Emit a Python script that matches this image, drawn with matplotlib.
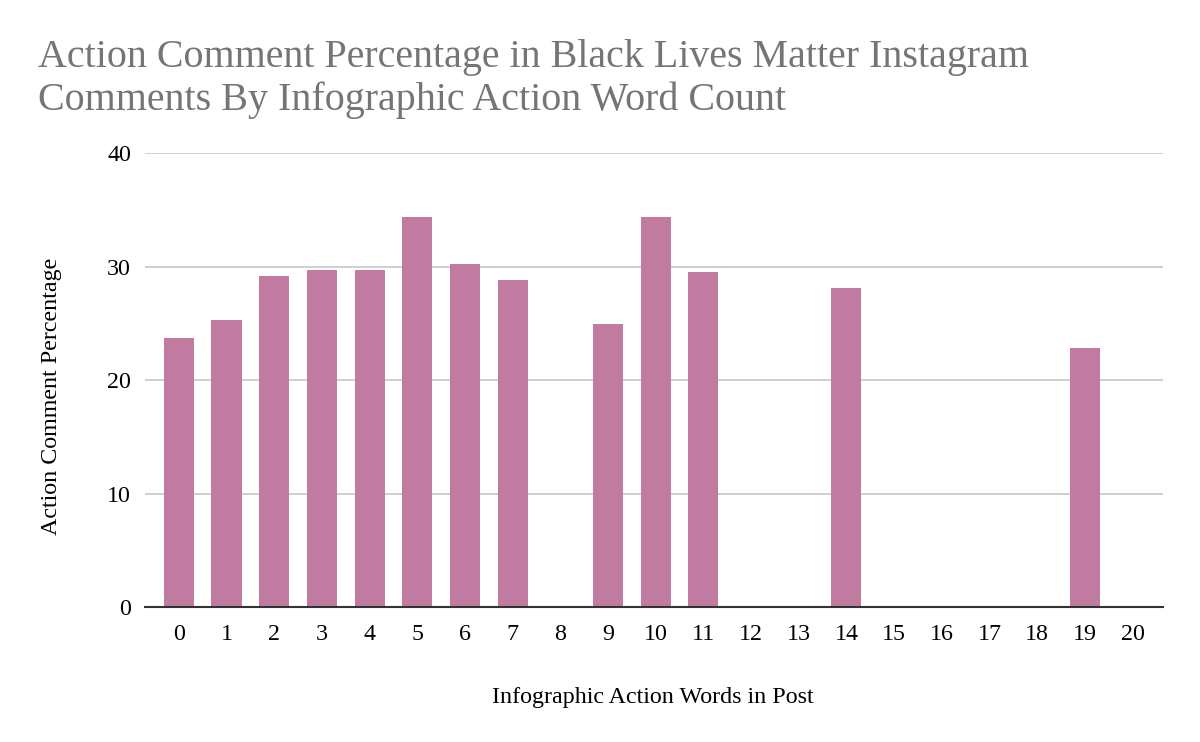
import matplotlib.pyplot as plt
import numpy as np

# word counts on the x axis and the action comment percentage for each
word_counts = [str(i) for i in range(21)]
percentages = [23.7, 25.3, 29.2, 29.7, 29.7, 34.4, 30.2, 28.8, 0, 24.9, 34.4,
               29.5, 0, 0, 28.1, 0, 0, 0, 0, 22.8, 0]

plt.rcParams['font.family'] = ['Liberation Serif', 'DejaVu Serif']

fig = plt.figure(figsize=(12, 7.42), dpi=100)
ax = fig.add_axes([0.1208, 0.1819, 0.8484, 0.6119])

x = np.arange(len(word_counts))
ax.bar(x, percentages, width=0.63, color='#c27ba0', zorder=3)

ax.set_xlim(-0.71, 20.64)
ax.set_ylim(0, 40)
ax.set_xticks(x)
ax.set_xticklabels(word_counts)
ax.set_yticks([0, 10, 20, 30, 40])
ax.tick_params(axis='both', length=0, labelsize=17.3, colors='#000000')
ax.tick_params(axis='x', pad=12)
ax.tick_params(axis='y', pad=10)

ax.grid(axis='y', color='#cccccc', linewidth=1.3, zorder=0)
for side in ['top', 'right', 'left']:
    ax.spines[side].set_visible(False)
ax.spines['bottom'].set_color('#333333')
ax.spines['bottom'].set_linewidth(1.5)
ax.spines['bottom'].set_zorder(4)

ax.set_xlabel('Infographic Action Words in Post', fontsize=17.3)
ax.xaxis.set_label_coords(0.499, -0.176)
ax.set_ylabel('Action Comment Percentage', fontsize=17.3)
ax.yaxis.set_label_coords(-0.081, 0.465)

fig.text(0.032, 0.852, 'Action Comment Percentage in Black Lives Matter Instagram\n'
         'Comments By Infographic Action Word Count',
         fontsize=28.8, color='#757575', ha='left', va='baseline', linespacing=1.17)

plt.savefig('out.png', dpi=100)
